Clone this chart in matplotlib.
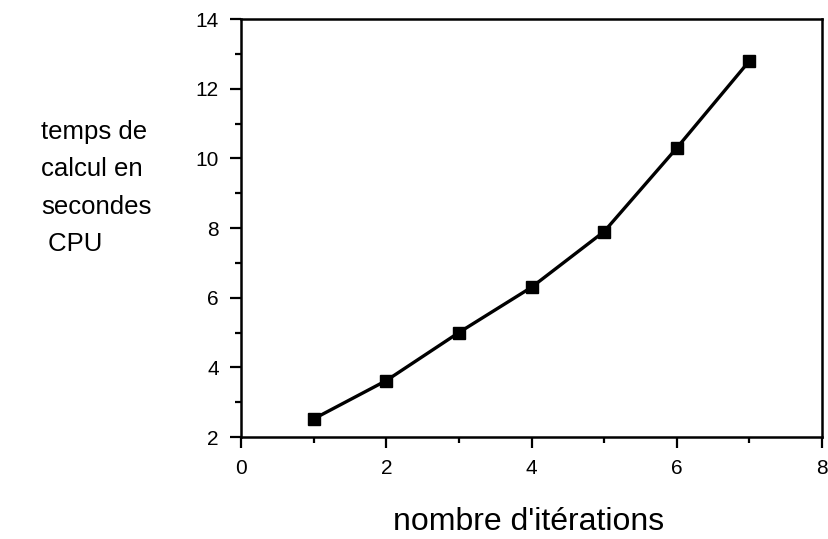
import matplotlib
matplotlib.use("Agg")
import matplotlib.pyplot as plt
from matplotlib.ticker import MultipleLocator

# number of iterations vs CPU time (seconds)
iterations = [1, 2, 3, 4, 5, 6, 7]
cpu_time = [2.52, 3.62, 5.0, 6.3, 7.9, 10.3, 12.8]

plt.rcParams['font.family'] = ['Liberation Sans', 'DejaVu Sans']

fig = plt.figure(figsize=(8.29, 5.39), dpi=100)
ax = fig.add_axes([0.2907, 0.1892, 0.701, 0.7755])

ax.plot(iterations, cpu_time, color='black', linewidth=2.4,
        marker='s', markersize=9, markerfacecolor='black')

ax.set_xlim(0, 8)
ax.set_ylim(2, 14)
ax.xaxis.set_major_locator(MultipleLocator(2))
ax.xaxis.set_minor_locator(MultipleLocator(1))
ax.yaxis.set_major_locator(MultipleLocator(2))
ax.yaxis.set_minor_locator(MultipleLocator(1))
ax.tick_params(which='major', direction='out', length=8, width=1.6, labelsize=15, pad=8)
ax.tick_params(which='minor', direction='out', length=4.5, width=1.6)
for s in ax.spines.values():
    s.set_linewidth(1.8)

# axis titles placed as free text, like the original
fig.text(0.637, 0.004, "nombre d'itérations", fontsize=23,
         ha='center', va='bottom')
fig.text(0.050, 0.651, "temps de\ncalcul en\nsecondes\n CPU", fontsize=18.5,
         ha='left', va='center', linespacing=1.7)

fig.savefig('out.png', dpi=100)
